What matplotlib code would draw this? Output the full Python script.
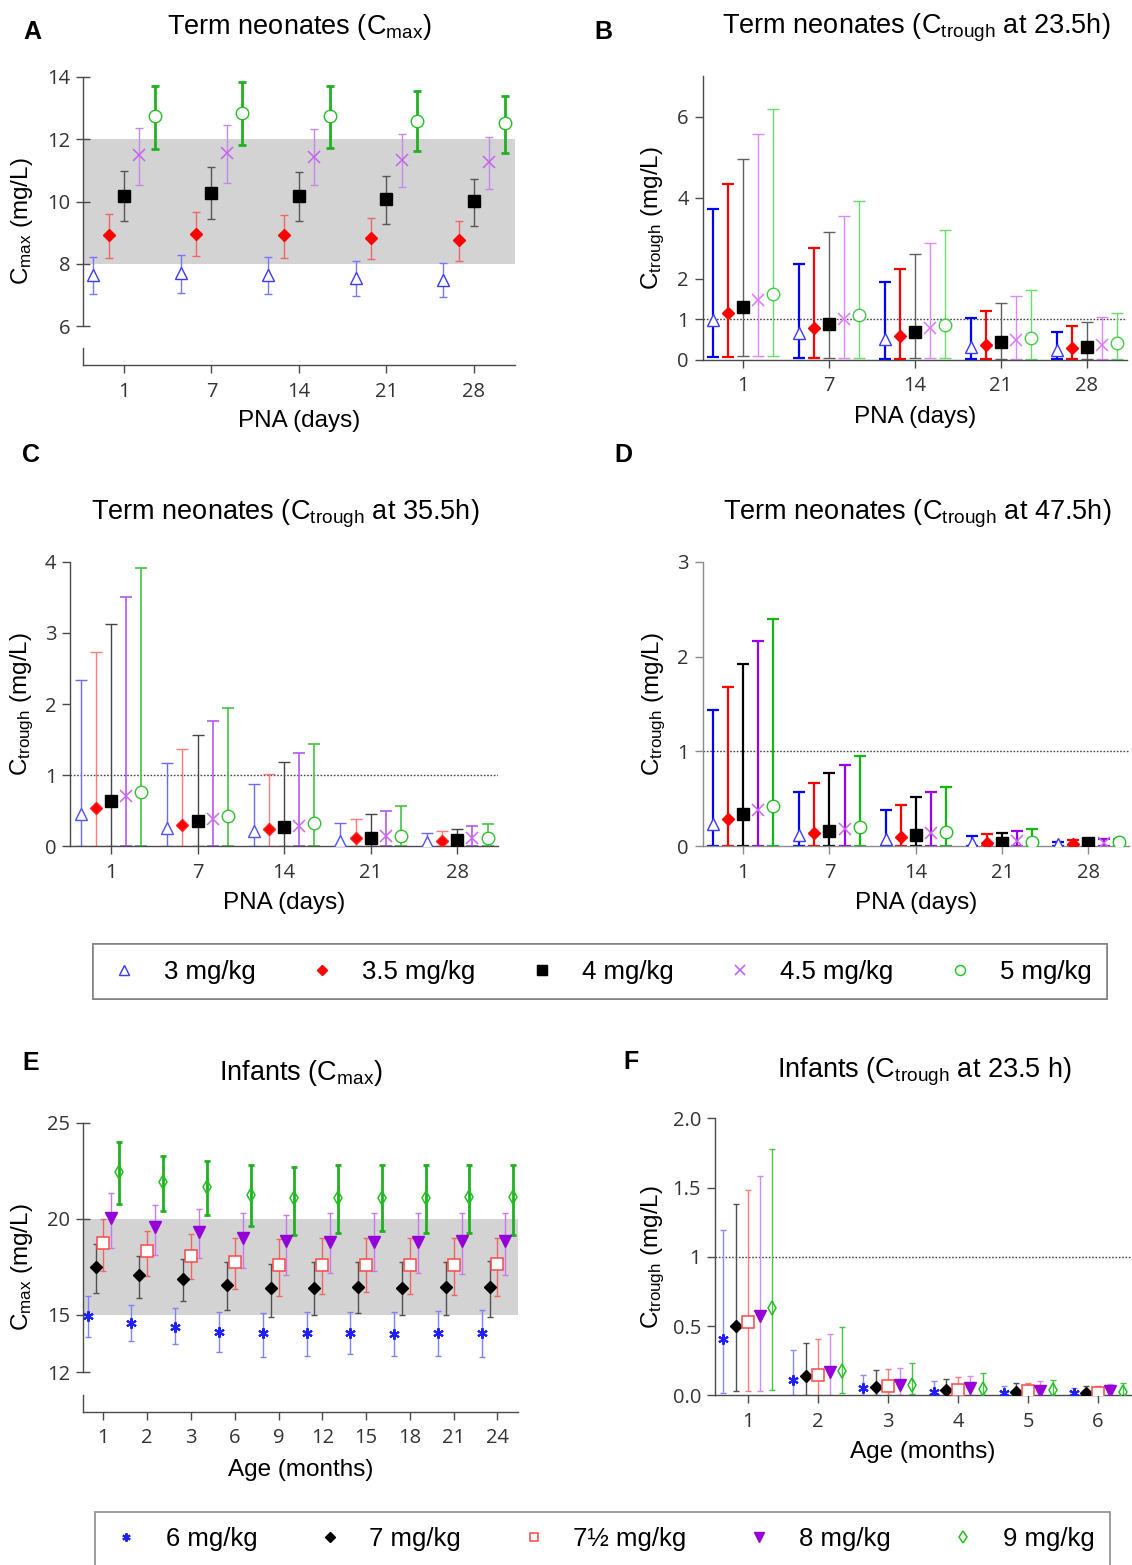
import matplotlib
matplotlib.use("Agg")
import matplotlib.pyplot as plt
import numpy as np
from matplotlib.font_manager import FontProperties

plt.rcParams['font.family'] = ['Liberation Sans', 'DejaVu Sans']
plt.rcParams['mathtext.fontset'] = 'custom'
plt.rcParams['mathtext.rm'] = 'Liberation Sans'
plt.rcParams['mathtext.it'] = 'Liberation Sans:italic'
plt.rcParams['mathtext.bf'] = 'Liberation Sans:bold'

# ---------------- data ----------------
PNA_DAYS = ['1', '7', '14', '21', '28']
AGE_E = ['1', '2', '3', '6', '9', '12', '15', '18', '21', '24']
AGE_F = ['1', '2', '3', '4', '5', '6']
NEO_DOSES = ['3 mg/kg', '3.5 mg/kg', '4 mg/kg', '4.5 mg/kg', '5 mg/kg']
INF_DOSES = ['6 mg/kg', '7 mg/kg', '7½ mg/kg', '8 mg/kg', '9 mg/kg']

# Panel A: term neonates Cmax (rows = doses, cols = PNA)
A_mid = [[7.65, 7.72, 7.63, 7.56, 7.49],
         [8.92, 8.97, 8.92, 8.82, 8.76],
         [10.19, 10.27, 10.19, 10.08, 10.02],
         [11.48, 11.55, 11.44, 11.34, 11.26],
         [12.75, 12.84, 12.74, 12.60, 12.52]]
A_lo = [[7.02, 7.06, 7.02, 6.96, 6.92],
        [8.19, 8.24, 8.19, 8.14, 8.08],
        [9.36, 9.43, 9.36, 9.28, 9.22],
        [10.53, 10.60, 10.53, 10.46, 10.39],
        [11.70, 11.80, 11.71, 11.62, 11.55]]
A_hi = [[8.22, 8.29, 8.21, 8.10, 8.02],
        [9.61, 9.68, 9.58, 9.47, 9.38],
        [10.97, 11.11, 10.96, 10.81, 10.71],
        [12.36, 12.45, 12.32, 12.17, 12.07],
        [13.72, 13.85, 13.70, 13.54, 13.39]]

# Panel B: Ctrough at 23.5 h
B_mid = [[0.98, 0.65, 0.51, 0.32, 0.24],
         [1.15, 0.77, 0.59, 0.36, 0.30],
         [1.31, 0.88, 0.68, 0.43, 0.32],
         [1.48, 1.00, 0.77, 0.49, 0.36],
         [1.63, 1.11, 0.85, 0.53, 0.40]]
B_lo = [[0.07, 0.03, 0.02, 0.02, 0.02],
        [0.07, 0.03, 0.02, 0.02, 0.02],
        [0.08, 0.05, 0.03, 0.02, 0.02],
        [0.08, 0.05, 0.03, 0.02, 0.02],
        [0.09, 0.05, 0.03, 0.02, 0.02]]
B_hi = [[3.71, 2.35, 1.92, 1.04, 0.69],
        [4.34, 2.75, 2.23, 1.21, 0.82],
        [4.94, 3.16, 2.60, 1.39, 0.93],
        [5.56, 3.54, 2.88, 1.57, 1.06],
        [6.19, 3.92, 3.20, 1.73, 1.16]]

# Panel C: Ctrough at 35.5 h
C_mid = [[0.46, 0.26, 0.21, 0.08, 0.06],
         [0.54, 0.30, 0.24, 0.11, 0.08],
         [0.63, 0.35, 0.27, 0.12, 0.09],
         [0.70, 0.39, 0.29, 0.14, 0.11],
         [0.77, 0.43, 0.33, 0.15, 0.12]]
C_lo = [[0.0, 0.0, 0.0, 0.0, 0.0],
        [0.0, 0.0, 0.0, 0.0, 0.0],
        [0.005, 0.0, 0.0, 0.0, 0.0],
        [0.005, 0.0, 0.0, 0.0, 0.0],
        [0.0, 0.0, 0.0, 0.0, 0.0]]
C_hi = [[2.34, 1.17, 0.87, 0.33, 0.18],
        [2.73, 1.37, 1.02, 0.39, 0.21],
        [3.12, 1.57, 1.18, 0.45, 0.24],
        [3.51, 1.76, 1.31, 0.50, 0.28],
        [3.91, 1.95, 1.44, 0.56, 0.31]]

# Panel D: Ctrough at 47.5 h
D_mid = [[0.24, 0.12, 0.08, 0.03, 0.02],
         [0.29, 0.14, 0.10, 0.03, 0.025],
         [0.34, 0.165, 0.12, 0.04, 0.035],
         [0.38, 0.18, 0.14, 0.056, 0.04],
         [0.42, 0.20, 0.15, 0.05, 0.05]]
D_lo = [[0.0, 0.0, 0.0, 0.0, 0.0],
        [0.0, 0.0, 0.0, 0.0, 0.0],
        [0.0, 0.0, 0.0, 0.0, 0.0],
        [0.0, 0.0, 0.0, 0.0, 0.0],
        [0.0, 0.0, 0.0, 0.0, 0.0]]
D_hi = [[1.44, 0.57, 0.38, 0.11, 0.05],
        [1.68, 0.67, 0.44, 0.13, 0.07],
        [1.92, 0.77, 0.52, 0.14, 0.07],
        [2.16, 0.86, 0.57, 0.165, 0.08],
        [2.40, 0.95, 0.63, 0.18, 0.08]]

# Panel E: infants Cmax
E_mid = [[14.95, 14.57, 14.39, 14.11, 14.03, 14.03, 14.03, 14.01, 14.03, 14.05],
         [17.50, 17.10, 16.88, 16.58, 16.42, 16.42, 16.44, 16.42, 16.44, 16.46],
         [18.75, 18.32, 18.07, 17.74, 17.62, 17.62, 17.62, 17.62, 17.62, 17.66],
         [20.07, 19.58, 19.32, 18.98, 18.85, 18.82, 18.82, 18.82, 18.85, 18.85],
         [22.47, 21.93, 21.65, 21.27, 21.09, 21.09, 21.09, 21.09, 21.13, 21.15]]
E_lo = [[13.85, 13.61, 13.49, 13.07, 12.80, 12.86, 12.97, 12.86, 12.83, 12.80],
        [16.16, 15.90, 15.73, 15.26, 14.91, 15.00, 15.10, 15.00, 14.97, 14.91],
        [17.31, 17.01, 16.86, 16.37, 15.99, 16.08, 16.18, 16.08, 16.02, 15.99],
        [18.47, 18.13, 17.95, 17.43, 17.07, 17.17, 17.26, 17.17, 17.12, 17.07],
        [20.78, 20.40, 20.21, 19.64, 19.18, 19.29, 19.39, 19.29, 19.25, 19.18]]
E_hi = [[16.00, 15.52, 15.36, 15.17, 15.12, 15.17, 15.17, 15.17, 15.19, 15.23],
        [18.68, 18.09, 17.93, 17.74, 17.67, 17.73, 17.73, 17.73, 17.73, 17.78],
        [20.02, 19.39, 19.20, 18.99, 18.94, 18.99, 18.99, 18.99, 19.01, 19.03],
        [21.37, 20.71, 20.50, 20.30, 20.21, 20.30, 20.30, 20.30, 20.30, 20.30],
        [24.03, 23.28, 23.04, 22.80, 22.73, 22.80, 22.80, 22.80, 22.81, 22.83]]

# Panel F: infants Ctrough at 23.5 h
F_mid = [[0.41, 0.11, 0.05, 0.024, 0.02, 0.017],
         [0.50, 0.14, 0.058, 0.04, 0.027, 0.02],
         [0.53, 0.15, 0.067, 0.04, 0.03, 0.02],
         [0.57, 0.165, 0.077, 0.055, 0.034, 0.029],
         [0.63, 0.175, 0.075, 0.048, 0.04, 0.027]]
F_lo = [[0.02, 0.005, 0.0, 0.0, 0.0, 0.0],
        [0.03, 0.005, 0.0, 0.0, 0.0, 0.0],
        [0.03, 0.005, 0.0, 0.0, 0.0, 0.0],
        [0.03, 0.005, 0.0, 0.0, 0.0, 0.0],
        [0.04, 0.02, 0.01, 0.0, 0.0, 0.0]]
F_hi = [[1.19, 0.33, 0.15, 0.10, 0.07, 0.055],
        [1.38, 0.38, 0.18, 0.115, 0.087, 0.07],
        [1.48, 0.41, 0.19, 0.13, 0.09, 0.067],
        [1.58, 0.44, 0.20, 0.14, 0.10, 0.08],
        [1.78, 0.49, 0.23, 0.16, 0.11, 0.09]]

# ---------------- styles ----------------
W, H = 1132, 1565
fig = plt.figure(figsize=(W / 100, H / 100), dpi=100)


def rect(l, t, r, b):
    return [l / W, 1 - b / H, (r - l) / W, (b - t) / H]


def fx(x):
    return x / W


def fy(y):
    return 1 - y / H


OFFS = [-0.35, -0.175, 0.0, 0.175, 0.35]
OFFS_E = [-0.36, -0.18, 0.0, 0.18, 0.36]

NEO_MK = ['^', 'D', 's', 'x', 'o']
NEO_MS = [8.5, 6.0, 8.5, 9.0, 9.0]
NEO_EC = ['#3a3aff', '#ff0000', '#000000', '#c860ee', '#22c022']
NEO_FC = ['white', '#ff0000', '#000000', 'none', 'white']
NEO_MEW = [1.0, 1.0, 1.0, 1.1, 1.0]

INF_MK = [(6, 2, 0), 'D', 's', 'v', 'd']
INF_MS = [7.5, 6.3, 8.0, 9.0, 7.5]
INF_EC = ['#2020ff', '#000000', '#ff4848', '#9500d8', '#22c022']
INF_FC = ['#2020ff', '#000000', 'white', '#9500d8', 'none']
INF_MEW = [1.5, 1.0, 1.1, 1.0, 1.1]

SPINE_C = '#4a4a4a'
TICK_FONT = FontProperties(family='Open Sans', size=14.5)
LABEL_FONT = FontProperties(family='Liberation Sans', size=17.5)
TITLE_FONT = FontProperties(family='Liberation Sans', size=19.5)
LETTER_FONT = FontProperties(family='Liberation Sans', size=18, weight='bold')


def draw(ax, cats, mids, los, his, offs, mk, ms, ec, fc, mew, ecols, elws, cap):
    n = len(cats)
    handles = []
    for i in range(len(mids)):
        x = np.arange(n) + offs[i]
        m = np.array(mids[i])
        lo = np.array(los[i])
        hi = np.array(his[i])
        ax.errorbar(x, m, yerr=[m - lo, hi - m], fmt='none', ecolor=ecols[i],
                    elinewidth=elws[i], capsize=cap, capthick=elws[i], zorder=2)
        h, = ax.plot(x, m, ls='none', marker=mk[i], ms=ms[i], mec=ec[i],
                     mfc=fc[i], mew=mew[i], zorder=3)
        handles.append(h)
    ax.set_xticks(np.arange(n))
    ax.set_xticklabels(cats)
    ax.set_xlim(-0.47, n - 1 + 0.47)
    return handles


def style(ax, yticks, ylabels, inout=False, spine_c=SPINE_C):
    for s in ['top', 'right']:
        ax.spines[s].set_visible(False)
    for s in ['left', 'bottom']:
        ax.spines[s].set_color(spine_c)
        ax.spines[s].set_linewidth(1.0)
    ax.set_yticks(yticks)
    ax.set_yticklabels(ylabels)
    ax.tick_params(axis='y', direction='inout' if inout else 'out',
                   length=10 if inout else 6, width=1.0, color=spine_c, pad=4)
    ax.tick_params(axis='x', direction='out', length=6, width=1.0,
                   color=spine_c, pad=6)
    for lab in ax.get_xticklabels() + ax.get_yticklabels():
        lab.set_fontproperties(TICK_FONT)
        lab.set_color('#333333')
    ax.patch.set_alpha(0)


def texts(ax_box, title, title_x, title_y, ylabel, ylab_x, xlabel, xlab_y, letter, letter_xy):
    l, t, r, b = ax_box
    fig.text(fx(title_x), fy(title_y), title, ha='center', va='baseline',
             fontproperties=TITLE_FONT)
    fig.text(fx(ylab_x), fy((t + b) / 2), ylabel, ha='center', va='center',
             rotation=90, fontproperties=LABEL_FONT)
    fig.text(fx((l + r) / 2), fy(xlab_y), xlabel, ha='center', va='center',
             fontproperties=LABEL_FONT)
    fig.text(fx(letter_xy[0]), fy(letter_xy[1]), letter, ha='center', va='center',
             fontproperties=LETTER_FONT)


CMAX = 'C$_{\\mathrm{max}}$ (mg/L)'
CTR = 'C$_{\\mathrm{trough}}$ (mg/L)'

# ---------------- Panel A ----------------
boxA = (82.9, 77, 515, 365)
axA = fig.add_axes(rect(*boxA))
axA.axhspan(8, 12, color='#d3d3d3', zorder=0, lw=0)
hA = draw(axA, PNA_DAYS, A_mid, A_lo, A_hi, OFFS, NEO_MK, NEO_MS, NEO_EC, NEO_FC, NEO_MEW,
          ['#7676ff', '#f06666', '#555555', '#c488ea', '#22b022'],
          [1.0, 1.0, 1.0, 1.0, 2.0], 2.6)
axA.set_ylim(4.75, 14)
style(axA, [6, 8, 10, 12, 14], ['6', '8', '10', '12', '14'], inout=True)
axA.spines['left'].set_bounds(6, 14)
axA.plot([0, 0], [4.75, 5.29], transform=axA.get_yaxis_transform(), color=SPINE_C,
         lw=1.0, clip_on=False)
texts(boxA, 'Term neonates (C$_{\\mathrm{max}}$)', 299, 34, CMAX, 22,
      'PNA (days)', 421, 'A', (32, 32))

# ---------------- Panel B ----------------
boxB = (702.6, 76, 1127, 359.7)
axB = fig.add_axes(rect(*boxB))
draw(axB, PNA_DAYS, B_mid, B_lo, B_hi, OFFS, NEO_MK, NEO_MS,
     ['#3a3aff', '#ff0000', '#000000', '#dd77ff', '#44cc44'], NEO_FC, NEO_MEW,
     ['#0000ff', '#ff0000', '#606060', '#dd88ff', '#66dd66'],
     [1.6, 1.6, 1.0, 1.0, 1.0], 4.0)
axB.axhline(1, ls=(0, (1.2, 1.2)), color='#444444', lw=1.0, zorder=1)
axB.set_ylim(0, 7.0)
style(axB, [0, 1, 2, 4, 6], ['0', '1', '2', '4', '6'])
texts(boxB, 'Term neonates (C$_{\\mathrm{trough}}$ at 23.5h)', 916, 34, CTR, 653,
      'PNA (days)', 417, 'B', (603, 32))

# ---------------- Panel C ----------------
boxC = (70.4, 561.7, 498, 846.3)
axC = fig.add_axes(rect(*boxC))
draw(axC, PNA_DAYS, C_mid, C_lo, C_hi, OFFS, NEO_MK, NEO_MS,
     ['#5050ff', '#ff2020', '#000000', '#cc66ee', '#33c033'], NEO_FC, NEO_MEW,
     ['#6a6aff', '#ff7a7a', '#444444', '#b458f0', '#44c444'],
     [1.0, 1.0, 1.0, 1.2, 1.2], 4.0)
axC.axhline(1, ls=(0, (1.2, 1.2)), color='#444444', lw=1.0, zorder=1)
axC.set_ylim(0, 4.0)
style(axC, [0, 1, 2, 3, 4], ['0', '1', '2', '3', '4'])
texts(boxC, 'Term neonates (C$_{\\mathrm{trough}}$ at 35.5h)', 285, 520, CTR, 22,
      'PNA (days)', 903, 'C', (31, 455))

# ---------------- Panel D ----------------
boxD = (702.6, 561.7, 1129, 846.3)
axD = fig.add_axes(rect(*boxD))
draw(axD, PNA_DAYS, D_mid, D_lo, D_hi, OFFS, NEO_MK, NEO_MS,
     ['#3a3aff', '#ff0000', '#000000', '#cc66ee', '#22c022'], NEO_FC, NEO_MEW,
     ['#0000ff', '#ff0000', '#000000', '#9a00ee', '#12b812'],
     [1.6, 1.6, 1.6, 1.6, 1.6], 4.0)
axD.axhline(1, ls=(0, (1.2, 1.2)), color='#444444', lw=1.0, zorder=1)
axD.set_ylim(0, 3.0)
style(axD, [0, 1, 2, 3], ['0', '1', '2', '3'], spine_c='#8a8a8a')
texts(boxD, 'Term neonates (C$_{\\mathrm{trough}}$ at 47.5h)', 917, 520, CTR, 654,
      'PNA (days)', 903, 'D', (623, 455))

# ---------------- Panel E ----------------
boxE = (82.9, 1123, 518, 1411.7)
axE = fig.add_axes(rect(*boxE))
axE.axhspan(15, 20, color='#d3d3d3', zorder=0, lw=0)
hE = draw(axE, AGE_E, E_mid, E_lo, E_hi, OFFS_E, INF_MK, INF_MS, INF_EC, INF_FC, INF_MEW,
          ['#8080ff', '#505050', '#f06666', '#c878ea', '#22b022'],
          [1.0, 1.0, 1.0, 1.0, 2.0], 2.4)
axE.set_ylim(9.95, 25)
style(axE, [12, 15, 20, 25], ['12', '15', '20', '25'], inout=True)
axE.spines['left'].set_bounds(12, 25)
axE.plot([0, 0], [9.95, 10.82], transform=axE.get_yaxis_transform(), color=SPINE_C,
         lw=1.0, clip_on=False)
texts(boxE, 'Infants (C$_{\\mathrm{max}}$)', 301, 1080, CMAX, 22,
      'Age (months)', 1470, 'E', (31, 1063))

# ---------------- Panel F ----------------
boxF = (715, 1118.3, 1131, 1395.3)
axF = fig.add_axes(rect(*boxF))
draw(axF, AGE_F, F_mid, F_lo, F_hi, OFFS, INF_MK, INF_MS, INF_EC, INF_FC, INF_MEW,
     ['#8888ff', '#505050', '#ff7a7a', '#d488f2', '#44c444'],
     [1.0, 1.0, 1.0, 1.0, 1.0], 2.2)
axF.axhline(1, ls=(0, (1.2, 1.2)), color='#444444', lw=1.0, zorder=1)
axF.set_ylim(0, 2.0)
style(axF, [0, 0.5, 1, 1.5, 2.0], ['0.0', '0.5', '1', '1.5', '2.0'])
texts(boxF, 'Infants (C$_{\\mathrm{trough}}$ at 23.5 h)', 924, 1078, CTR, 653,
      'Age (months)', 1452, 'F', (631, 1062))

# ---------------- Legends ----------------
LEG_FONT = FontProperties(family='Liberation Sans', size=18.5)


def legend(handles, labels, l, t, r, b):
    lg = fig.legend(handles, labels, loc='center', ncol=5, mode='expand',
                    bbox_to_anchor=(fx(l), fy(b), fx(r) - fx(l), fy(t) - fy(b)),
                    bbox_transform=fig.transFigure, frameon=True, fancybox=False,
                    prop=LEG_FONT, handlelength=1.2, handletextpad=0.95,
                    borderpad=0.6, borderaxespad=0, markerscale=0.8,
                    columnspacing=1.0)
    fr = lg.get_frame()
    fr.set_edgecolor('#7a7a7a')
    fr.set_linewidth(1.3)
    return lg


leg1 = legend(hA, NEO_DOSES, 93, 940, 1107, 1003)
fig.add_artist(leg1)
leg2 = legend(hE, INF_DOSES, 95, 1506, 1110, 1572)

fig.savefig('out.png', dpi=100)
